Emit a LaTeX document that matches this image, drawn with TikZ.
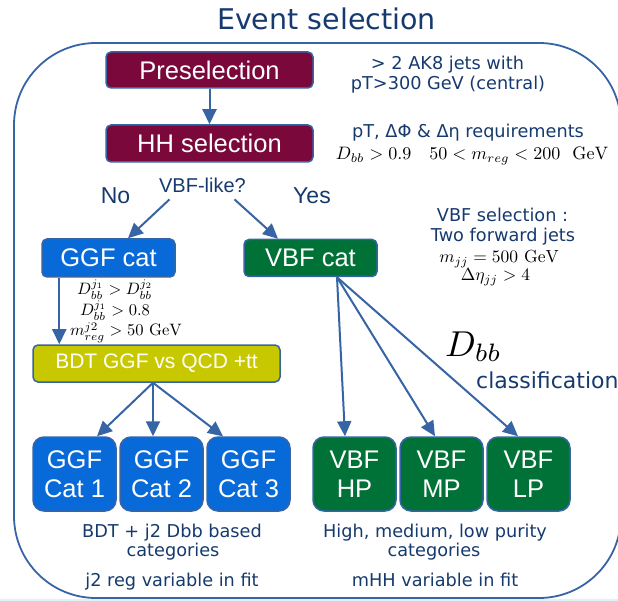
\documentclass[tikz,border=0pt]{standalone}
\usepackage{fontspec}
\usetikzlibrary{arrows.meta}
\newfontfamily\dejavu{DejaVu Sans}
\newfontfamily\arialfont{Liberation Sans}
\definecolor{wine}{RGB}{122,8,58}
\definecolor{ggfblue}{RGB}{8,106,216}
\definecolor{vbfgreen}{RGB}{0,114,56}
\definecolor{bdtyellow}{RGB}{200,200,0}
\definecolor{navy}{RGB}{22,58,110}
\definecolor{edge}{RGB}{55,100,165}
\definecolor{strip}{RGB}{222,242,250}
\tikzset{
  box/.style={draw=edge, line width=1.5pt, rounded corners=5pt, text=white, inner sep=0pt,
    align=center, font=\arialfont\fontsize{25.5}{29}\selectfont},
  catbox/.style={box, rounded corners=11pt, minimum width=83pt, minimum height=74pt},
  info/.style={text=navy, font=\dejavu\fontsize{17.7}{20}\selectfont, inner sep=0pt, anchor=base},
  mathlabel/.style={font=\fontsize{10}{12}\selectfont, inner sep=0pt, anchor=base},
  flow/.style={draw=edge, line width=2pt, -{Triangle[length=15pt,width=14pt]}},
}

\begin{document}
\begin{tikzpicture}[x=1pt,y=-1pt]
  \useasboundingbox (0,0) rectangle (618,601);
  \clip (0,0) rectangle (618,601);
  \fill[strip] (0,599) rectangle (618,601);
  % outer frame
  \draw[edge, line width=1.8pt, rounded corners=82pt] (14,43) rectangle (621,598);
  \node[info, font=\dejavu\fontsize{28.5}{32}\selectfont] (title) at (326.5,30) {Event selection};

  % selection steps
  \node[box, fill=wine, minimum width=207pt, minimum height=36pt] (pre) at (209.5,70) {Preselection};
  \node[box, fill=wine, minimum width=207pt, minimum height=37pt] (hh) at (209.5,143.5) {HH selection};
  \draw[flow] (pre.south) -- (hh.north);
  \node[info] (jets) at (447.5,70) {> 2 AK8 jets with};
  \node[info] (ptcut) at (448,90) {pT>300 GeV (central)};
  \node[info] (req) at (468,138) {pT, ΔΦ \& Δη requirements};
  \node[mathlabel] (hhcut) at (472,160) {\scalebox{1.8}{$D_{bb} > 0.9 \quad 50 < m_{reg} < 200 \ \ \mathrm{GeV}$}};

  % VBF-like split
  \node[info, font=\arialfont\fontsize{20}{24}\selectfont] (like) at (202.5,193) {VBF-like?};
  \node[info, font=\arialfont\fontsize{23}{26}\selectfont] (no) at (115.5,204) {No};
  \node[info, font=\arialfont\fontsize{23}{26}\selectfont] (yes) at (312,204) {Yes};
  \node[box, fill=ggfblue, minimum width=133pt, minimum height=38pt] (ggf) at (108.5,258) {GGF cat};
  \node[box, fill=vbfgreen, minimum width=133pt, minimum height=37pt] (vbf) at (310.5,258) {VBF cat};
  \draw[flow] ([shift={(-33,6)}]like.south) -- ([shift={(19.5,0)}]ggf.north);
  \draw[flow] ([shift={(32,6)}]like.south) -- ([shift={(-32.5,0)}]vbf.north);
  \node[info] (vbfsel) at (502.5,222) {VBF selection :};
  \node[info] (fwd) at (503,242) {Two forward jets};
  \node[mathlabel] (mjj) at (499,263) {\scalebox{1.75}{$m_{jj} = 500\ \mathrm{GeV}$}};
  \node[mathlabel] (deta) at (495.5,281) {\scalebox{1.75}{$\Delta\eta_{jj} > 4$}};

  % GGF branch
  \node[mathlabel] (dbbord) at (115,295) {\scalebox{1.65}{$D_{bb}^{j_1} > D_{bb}^{j_2}$}};
  \node[mathlabel] (dbbcut) at (115,316) {\scalebox{1.65}{$D_{bb}^{j_1} > 0.8$}};
  \node[mathlabel] (mreg) at (126,336) {\scalebox{1.65}{$m_{reg}^{j2} > 50\ \mathrm{GeV}$}};
  \node[box, fill=bdtyellow, minimum width=247pt, minimum height=37pt,
    font=\arialfont\fontsize{21}{24}\selectfont] (bdt) at (156.5,363.5) {BDT GGF vs QCD +tt};
  \draw[flow] ([shift={(18,0)}]ggf.south west) -- ([shift={(27,0)}]bdt.north west);
  \node[catbox, fill=ggfblue] (ggf1) at (74.5,474) {GGF\\Cat 1};
  \node[catbox, fill=ggfblue] (ggf2) at (161.5,474) {GGF\\Cat 2};
  \node[catbox, fill=ggfblue] (ggf3) at (248.5,474) {GGF\\Cat 3};
  \draw[flow] ([shift={(-3.5,0)}]bdt.south) -- ([shift={(22.5,0)}]ggf1.north);
  \draw[flow] ([shift={(-3.5,0)}]bdt.south) -- ([shift={(-8.5,0)}]ggf2.north);
  \draw[flow] ([shift={(-3.5,0)}]bdt.south) -- ([shift={(-25.5,0)}]ggf3.north);

  % VBF branch
  \node[catbox, fill=vbfgreen] (vbfhp) at (354.5,474) {VBF\\HP};
  \node[catbox, fill=vbfgreen] (vbfmp) at (441.5,474) {VBF\\MP};
  \node[catbox, fill=vbfgreen] (vbflp) at (528.5,474) {VBF\\LP};
  \draw[flow] ([shift={(26.5,0)}]vbf.south) -- ([shift={(-9.5,0)}]vbfhp.north);
  \draw[flow] ([shift={(26.5,0)}]vbf.south) -- ([shift={(-6.5,0)}]vbfmp.north);
  \draw[flow] ([shift={(26.5,0)}]vbf.south) -- ([shift={(-10.5,0)}]vbflp.north);
  \node[mathlabel] (dbb) at (473.5,356) {\scalebox{3.6}{$D_{bb}$}};
  \node[info, font=\dejavu\fontsize{22}{26}\selectfont, anchor=base west] (classif) at (476,388) {classification};

  % fit descriptions
  \node[info] (ggfdesc) at (172,537) {BDT + j2 Dbb based};
  \node[info] (ggfcats) at (173,556) {categories};
  \node[info] (ggffit) at (172,586) {j2 reg variable in fit};
  \node[info] (vbfdesc) at (435,537) {High, medium, low purity};
  \node[info] (vbfcats) at (434,556) {categories};
  \node[info] (vbffit) at (435,586) {mHH variable in fit};
\end{tikzpicture}
\end{document}
